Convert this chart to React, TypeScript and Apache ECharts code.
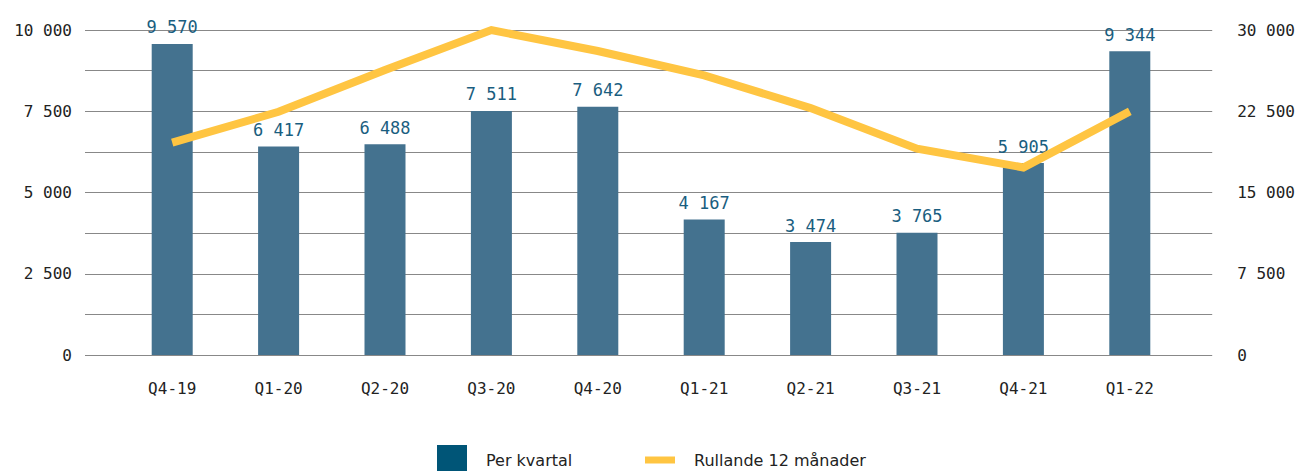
import React, { useEffect, useRef } from "react";
import * as echarts from "echarts";

const categories = ["Q4-19", "Q1-20", "Q2-20", "Q3-20", "Q4-20", "Q1-21", "Q2-21", "Q3-21", "Q4-21", "Q1-22"];
const perKvartal = [9570, 6417, 6488, 7511, 7642, 4167, 3474, 3765, 5905, 9344];
const rullande = [19600, 22450, 26300, 29990, 28060, 25810, 22790, 19050, 17310, 22490];
const leftTicks = [0, 2500, 5000, 7500, 10000];
const rightTicks = [0, 7500, 15000, 22500, 30000];

const FONT = "'DejaVu Sans Mono', monospace";
const SANS = "'DejaVu Sans', sans-serif";
const fmt = (v: number) => {
  const s = String(Math.round(v));
  return s.replace(/\B(?=(\d{3})+(?!\d))/g, " ");
};

export default function App() {
  const ref = useRef<HTMLDivElement>(null);
  useEffect(() => {
    if (!ref.current) return;
    const chart = echarts.init(ref.current, undefined, { renderer: "svg" });
    const legendText = { fontFamily: SANS, fontSize: 16, lineHeight: 20, color: "#222", padding: [2, 0, 0, 14] };
    chart.setOption({
      animation: false,
      legend: [
        {
          top: 445,
          left: 437,
          padding: 0,
          itemWidth: 30,
          itemHeight: 30,
          textStyle: legendText,
          data: [{ name: "Per kvartal", icon: "rect", itemStyle: { color: "#005577" } }],
        },
        {
          top: 449,
          left: 645,
          padding: 0,
          itemWidth: 30,
          itemHeight: 7,
          textStyle: legendText,
          data: [{ name: "Rullande 12 månader", icon: "rect", itemStyle: { color: "#FFC542" } }],
        },
      ],
      grid: [
        { left: 85, right: 81, top: 30, height: 325 },
        { left: 119, right: 115, top: 30, height: 325 },
      ],
      xAxis: [
        { type: "category", gridIndex: 0, data: categories, show: false },
        {
          type: "category",
          gridIndex: 1,
          data: categories,
          axisLine: { show: false },
          axisTick: { show: false },
          axisLabel: { margin: 25, fontFamily: FONT, fontSize: 16, color: "#222" },
        },
      ],
      yAxis: [
        {
          type: "value",
          gridIndex: 0,
          min: 0,
          max: 10000,
          interval: 1250,
          axisLine: { show: false },
          axisTick: { show: false },
          splitLine: { lineStyle: { color: "#888", width: 1 } },
          axisLabel: {
            margin: 13,
            fontFamily: FONT,
            fontSize: 16,
            color: "#222",
            formatter: (v: number) => (leftTicks.includes(v) ? fmt(v) : ""),
          },
        },
        {
          type: "value",
          gridIndex: 0,
          position: "right",
          min: 0,
          max: 30000,
          interval: 3750,
          axisLine: { show: false },
          axisTick: { show: false },
          splitLine: { show: false },
          axisLabel: {
            margin: 25,
            fontFamily: FONT,
            fontSize: 16,
            color: "#222",
            formatter: (v: number) => (rightTicks.includes(v) ? fmt(v) : ""),
          },
        },
        { type: "value", gridIndex: 1, min: 0, max: 10000, show: false },
        { type: "value", gridIndex: 1, min: 0, max: 30000, show: false },
      ],
      series: [
        {
          name: "Per kvartal",
          type: "bar",
          xAxisIndex: 1,
          yAxisIndex: 2,
          data: perKvartal,
          barWidth: 41,
          itemStyle: { color: "#44728F" },
          label: {
            show: true,
            position: "top",
            distance: 8,
            fontFamily: FONT,
            fontSize: 17,
            color: "#1A5E80",
            formatter: (p: any) => fmt(p.value),
          },
          z: 2,
        },
        {
          name: "Rullande 12 månader",
          type: "line",
          xAxisIndex: 1,
          yAxisIndex: 3,
          data: rullande,
          showSymbol: false,
          symbol: "none",
          lineStyle: { color: "#FFC542", width: 8, join: "miter" },
          itemStyle: { color: "#FFC542" },
          z: 3,
        },
      ],
    });
    return () => chart.dispose();
  }, []);
  return <div ref={ref} style={{ width: 1298, height: 471, position: "absolute", left: 0, top: 0 }} />;
}
